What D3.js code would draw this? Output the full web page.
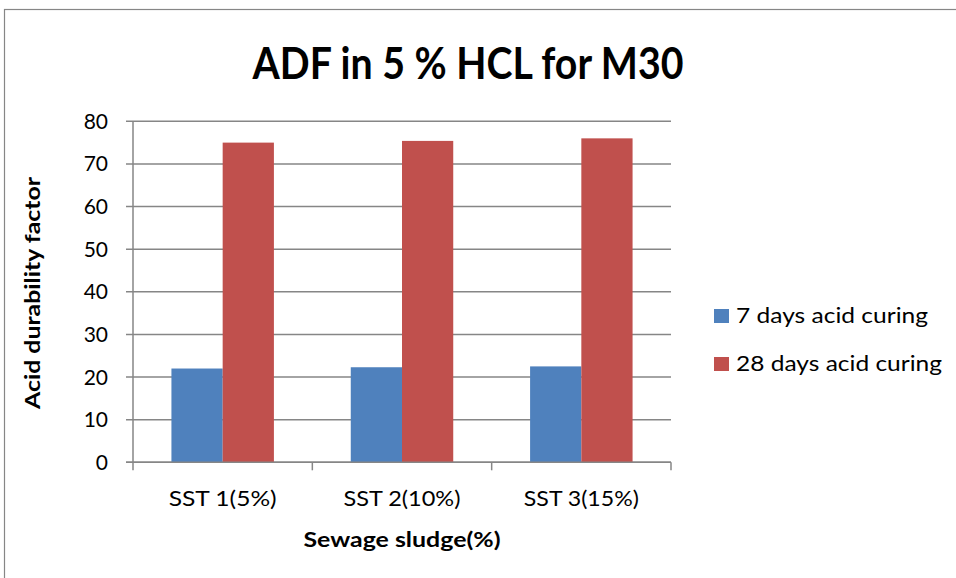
<!DOCTYPE html>
<html><head><meta charset="utf-8">
<script src="https://cdn.jsdelivr.net/npm/d3@7"></script>
<style>body{margin:0;background:#fff}svg{display:block}text{font-family:Lato,"Open Sans",sans-serif}</style>
</head><body>
<svg id="c" width="956" height="578"></svg>
<script>
const categories = ["SST 1(5%)", "SST 2(10%)", "SST 3(15%)"];
const seriesNames = ["7 days acid curing", "28 days acid curing"];
const days7 = [22.0, 22.3, 22.5];
const days28 = [75.0, 75.4, 76.0];
const yTicks = [0, 10, 20, 30, 40, 50, 60, 70, 80];
const colors = ["#4F81BD", "#C0504D"];

const svg = d3.select("#c");
// outer chart border
svg.append("rect").attr("x", 4.5).attr("y", 9.5).attr("width", 1000).attr("height", 1000)
  .attr("fill", "none").attr("stroke", "#868686").attr("stroke-width", 1.2);

const m = {l: 133, r: 671, t: 121.3, b: 462.3};
const x = d3.scaleBand().domain(categories).range([m.l, m.r]).paddingInner(0).paddingOuter(0);
const y = d3.scaleLinear().domain([0, 80]).range([m.b, m.t]);
const bw = x.bandwidth() / 3.5;
const x1 = d3.scaleBand().domain([0, 1]).range([0, 2 * bw]);

// gridlines
svg.append("g").selectAll("line").data(yTicks).join("line")
  .attr("x1", m.l - 7).attr("x2", m.r).attr("y1", d => y(d)).attr("y2", d => y(d))
  .attr("stroke", "#868686").attr("stroke-width", 1.5);

const data = [days7, days28];
categories.forEach((c, i) => {
  data.forEach((s, j) => {
    svg.append("rect")
      .attr("x", x(c) + (x.bandwidth() - 2 * bw) / 2 + x1(j))
      .attr("width", bw)
      .attr("y", y(s[i]))
      .attr("height", y(0) - y(s[i]))
      .attr("fill", colors[j]);
  });
});

// axes lines
svg.append("line").attr("x1", m.l).attr("x2", m.l).attr("y1", m.t).attr("y2", m.b + 0.5)
  .attr("stroke", "#868686").attr("stroke-width", 1.5);
svg.append("line").attr("x1", m.l - 7).attr("x2", m.r).attr("y1", m.b).attr("y2", m.b)
  .attr("stroke", "#868686").attr("stroke-width", 1.5);
// x ticks
const xt = [m.l].concat(categories.map(c => x(c) + x.bandwidth()));
svg.append("g").selectAll("line").data(xt).join("line")
  .attr("x1", d => d).attr("x2", d => d).attr("y1", m.b).attr("y2", m.b + 8)
  .attr("stroke", "#868686").attr("stroke-width", 1.5);

// y tick labels
svg.append("g").selectAll("text").data(yTicks).join("text")
  .attr("x", 108).attr("y", d => y(d)).attr("dy", "0.36em")
  .attr("text-anchor", "end").attr("font-size", 21).attr("fill", "#000").text(d => d);

// category labels
const catW = [108, 117, 115];
svg.append("g").selectAll("text").data(categories).join("text")
  .attr("x", d => x(d) + x.bandwidth() / 2).attr("y", 506)
  .attr("text-anchor", "middle").attr("font-size", 21).attr("fill", "#000")
  .attr("textLength", (d, i) => catW[i]).attr("lengthAdjust", "spacingAndGlyphs").text(d => d);

// title
svg.append("text").attr("x", 468).attr("y", 79).attr("text-anchor", "middle")
  .attr("font-size", 44).attr("font-weight", "bold").attr("textLength", 431)
  .attr("lengthAdjust", "spacingAndGlyphs").text("ADF in 5 % HCL for M30");

// axis titles
svg.append("text").attr("x", 402).attr("y", 547).attr("text-anchor", "middle")
  .attr("font-size", 20).attr("font-weight", "bold").attr("textLength", 197)
  .attr("lengthAdjust", "spacingAndGlyphs").text("Sewage sludge(%)");
svg.append("text").attr("transform", "translate(40,293) rotate(-90)").attr("text-anchor", "middle")
  .attr("font-size", 20).attr("font-weight", "bold").attr("textLength", 232)
  .attr("lengthAdjust", "spacingAndGlyphs").text("Acid durability factor");

// legend
const lg = svg.append("g");
seriesNames.forEach((n, j) => {
  const yy = 323 + j * 48;
  lg.append("rect").attr("x", 714).attr("y", yy - 14).attr("width", 15).attr("height", 14).attr("fill", colors[j]);
  lg.append("text").attr("x", 736).attr("y", yy).attr("font-size", 22)
    .attr("textLength", j === 0 ? 192 : 206).attr("lengthAdjust", "spacingAndGlyphs").text(n);
});
</script>
</body></html>
